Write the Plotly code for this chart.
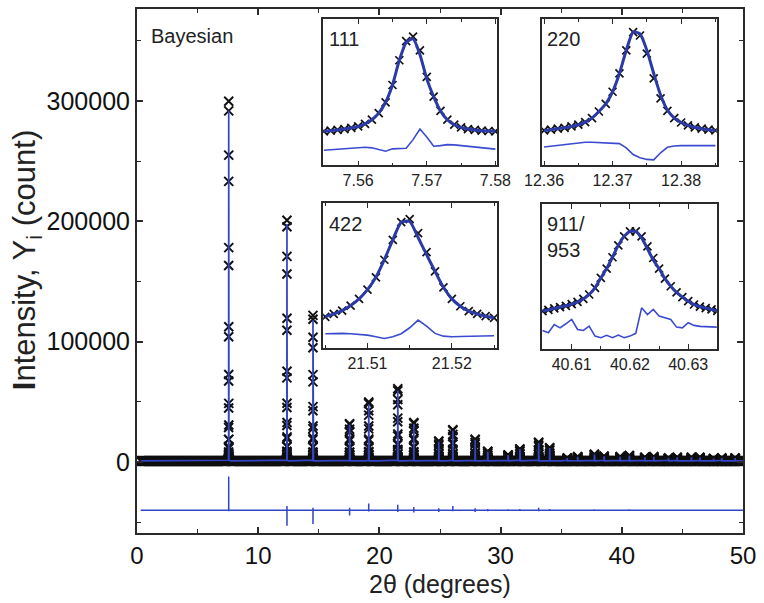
import numpy as np
import plotly.graph_objects as go

# ---------------- main powder pattern ----------------
STEP = 0.001                     # 2theta step inside each reflection (deg)
background = 900                 # flat background (counts)
diff_offset = -40000             # vertical offset of the difference curve

# reflections (2theta, deg)
peak_pos = [7.568, 12.373, 14.52, 17.54, 19.12, 21.516, 22.84, 24.90, 26.06,
            27.90, 28.94, 30.62, 31.59, 33.14, 34.05, 35.50, 36.36, 37.74,
            38.54, 39.86, 40.621, 41.90, 42.64, 43.85, 44.57, 45.74, 46.44,
            47.57, 48.25, 49.35]
# observed peak maxima above background (counts)
peak_obs = [299000, 200000, 121000, 31000, 49000, 60000, 32000, 16500, 26000,
            18000, 8000, 5000, 10000, 15500, 11000, 2500, 3500, 5500,
            4000, 3500, 4500, 3000, 3500, 2500, 3000, 3000, 3000,
            2000, 2500, 2500]
# calculated peak maxima above background (counts)
peak_calc = [291000, 197000, 117000, 30000, 47000, 58500, 31000, 16000, 25000,
             17500, 7800, 4900, 9800, 15000, 10700, 2400, 3400, 5300,
             3900, 3400, 4400, 2900, 3400, 2400, 2900, 2900, 2900,
             1900, 2400, 2400]
# relative line profile (offsets in steps of 0.001 deg from the maximum)
profile_offset = [-150, -100, -70, -45, -30, -23, -19, -16, -14,
                  -13, -12, -11, -10, -9, -8, -7, -6, -5, -4, -3, -2, -1, 0,
                  1, 2, 3, 4, 5, 6, 7, 8, 9, 10, 11, 12,
                  14, 16, 19, 23, 30, 45, 70, 100, 150]
profile_shape = [0.0004, 0.0006, 0.001, 0.0015, 0.002, 0.003, 0.004, 0.005, 0.006,
                 0.008, 0.010, 0.016, 0.025, 0.040, 0.060, 0.093, 0.147, 0.222,
                 0.345, 0.543, 0.777, 0.973, 1.000,
                 0.850, 0.593, 0.373, 0.240, 0.160, 0.100, 0.060, 0.035,
                 0.020, 0.013, 0.009, 0.007,
                 0.006, 0.005, 0.004, 0.003, 0.002, 0.0015, 0.001, 0.0006, 0.0004]
# difference curve excursions (counts) at each reflection
diff_up = [28000, 3500, 2000, 2000, 5500, 4500, 2500, 1500, 3500,
           1500, 1000, 800, 1000, 2000, 1000, 500, 500, 800,
           600, 500, 700, 500, 500, 400, 500, 400, 500,
           400, 400, 400]
diff_down = [-1000, -13000, -11500, -4500, -1200, -1500, -2000, -1500, -1000,
             -1500, -1000, -800, -800, -1000, -800, -500, -500, -600,
             -500, -500, -600, -400, -500, -400, -400, -400, -400,
             -400, -400, -400]

# coarse background scan plus fine scan through every reflection
scan_start, scan_end, coarse_step = 0.3, 50.0, 0.02
x_coarse = np.arange(scan_start, scan_end + 1e-9, coarse_step)
pos = np.array(peak_pos)
keep = np.min(np.abs(x_coarse[:, None] - pos[None, :]), axis=1) > 0.16
x_all = [x_coarse[keep]]
obs_all = [np.full(keep.sum(), background, float)]
calc_all = [np.full(keep.sum(), background, float)]
off = np.array(profile_offset) * STEP
shape = np.array(profile_shape)
for p, ho, hc in zip(peak_pos, peak_obs, peak_calc):
    x_all.append(p + off)
    obs_all.append(background + ho * shape)
    calc_all.append(background + hc * shape)
x_all = np.concatenate(x_all)
obs_all = np.concatenate(obs_all)
calc_all = np.concatenate(calc_all)
order = np.argsort(x_all)
x_all, obs_all, calc_all = x_all[order], obs_all[order], calc_all[order]

# difference curve
dx, dy = [scan_start], [diff_offset]
for p, u, d in zip(peak_pos, diff_up, diff_down):
    dx += [p - 0.003, p - 0.001, p + 0.001, p + 0.003]
    dy += [diff_offset, diff_offset + u, diff_offset + d, diff_offset]
dx.append(scan_end)
dy.append(diff_offset)

# ---------------- enlarged reflections ----------------
ins_111_x0 = 7.555
ins_111_obs = [23.3, 23.7, 24.2, 24.8, 25.7, 26.6, 28.4, 31.2, 35.7, 43.1, 54.9,
               71.8, 84.9, 88.0, 78.6, 60.5, 47.0, 37.2, 31.2, 27.8, 26.0, 24.8,
               24.2, 23.7, 23.5, 23.3]
ins_111_calc = [23.3, 23.7, 24.2, 24.8, 25.7, 26.6, 28.4, 31.2, 35.7, 43.1, 54.9,
                71.8, 84.0, 86.5, 75.8, 59.1, 47.0, 37.2, 31.2, 27.8, 26.0, 24.8,
                24.2, 23.7, 23.5, 23.3]
ins_111_diff = [10.4, 10.8, 11.3, 11.7, 12.0, 12.2, 12.4, 12.0, 10.8, 9.7, 11.3,
                11.5, 11.7, 17.6, 24.8, 19.4, 13.1, 13.5, 14.2, 14.0, 13.5, 12.9,
                12.2, 11.7, 11.3, 11.1]

ins_220_x0 = 12.360
ins_220_obs = [23.9, 24.4, 25.1, 25.7, 26.6, 27.8, 29.6, 32.3, 36.8, 42.0, 50.3,
               62.8, 78.6, 91.0, 88.7, 76.3, 59.4, 45.8, 37.2, 32.3, 29.3, 27.3,
               26.0, 25.1, 24.4, 23.9]
ins_220_calc = [23.9, 24.4, 25.1, 25.7, 26.6, 27.8, 29.6, 32.3, 36.8, 42.0, 50.3,
                62.8, 78.6, 91.0, 89.8, 78.6, 62.8, 48.1, 37.8, 32.3, 29.3, 27.3,
                26.0, 25.1, 24.4, 23.9]
ins_220_diff = [12.6, 13.1, 13.8, 14.4, 15.1, 15.6, 15.8, 15.8, 15.6, 15.6, 15.3,
                14.9, 12.0, 7.4, 5.2, 4.1, 3.8, 8.6, 12.4, 13.3, 13.5, 13.5,
                13.5, 13.5, 13.5, 13.5]

ins_422_x0 = 21.505
ins_422_obs = [21.4, 23.4, 25.7, 29.2, 33.8, 40.2, 48.7, 60.9, 74.7, 86.9, 89.0,
               79.3, 66.2, 52.9, 41.8, 33.8, 28.7, 25.3, 23.4, 21.8, 20.7]
ins_422_calc = [21.4, 23.4, 25.7, 29.2, 33.8, 40.2, 48.7, 60.9, 74.7, 86.9, 87.4,
                76.3, 64.4, 52.9, 41.8, 33.8, 28.7, 25.3, 23.4, 21.8, 20.7]
ins_422_diff = [9.7, 9.9, 9.9, 9.7, 9.4, 8.7, 7.6, 6.4, 7.6, 9.7, 13.8,
                19.1, 14.9, 9.9, 8.0, 7.6, 7.8, 8.0, 8.3, 8.3, 8.3]

ins_911_x0 = 40.605
ins_911_obs = [25.9, 26.8, 27.8, 28.7, 29.6, 30.7, 32.3, 34.4, 37.4, 42.0, 48.9,
               55.3, 63.1, 71.3, 77.5, 81.0, 81.0, 77.5, 70.6, 62.6, 55.3, 48.4,
               43.1, 38.8, 35.6, 32.8, 30.5, 29.1, 28.0, 27.1, 26.1]
ins_911_calc = [25.9, 26.8, 27.8, 28.7, 29.6, 30.7, 32.3, 34.4, 37.4, 42.0, 48.9,
                55.3, 63.1, 71.3, 77.5, 81.0, 81.0, 76.4, 69.0, 61.2, 55.3, 48.4,
                43.1, 38.8, 35.6, 32.8, 30.5, 29.1, 28.0, 27.1, 26.1]
ins_911_diff = [12.6, 11.0, 16.7, 14.4, 17.2, 20.2, 13.3, 12.6, 15.6, 8.7, 7.6,
                9.2, 7.6, 9.4, 7.6, 8.7, 10.6, 28.2, 23.6, 27.1, 22.5, 21.3,
                20.2, 14.9, 14.4, 17.9, 16.1, 15.4, 15.1, 14.9, 14.9]

insets = [
    dict(label="111", x0=ins_111_x0, obs=ins_111_obs, calc=ins_111_calc, diff=ins_111_diff,
         rng=[7.5549, 7.5803], ticks=[7.56, 7.57, 7.58], ticktext=["7.56", "7.57", "7.58"],
         minor=[7.555, 7.565, 7.575],
         dx=[0.3072, 0.5948], dy=[0.7015, 0.981], ly=0.865),
    dict(label="220", x0=ins_220_x0, obs=ins_220_obs, calc=ins_220_calc, diff=ins_220_diff,
         rng=[12.3597, 12.3852], ticks=[12.36, 12.37, 12.38], ticktext=["12.36", "12.37", "12.38"],
         minor=[12.365, 12.375, 12.385],
         dx=[0.6683, 0.9567], dy=[0.7015, 0.981], ly=0.865),
    dict(label="422", x0=ins_422_x0, obs=ins_422_obs, calc=ins_422_calc, diff=ins_422_diff,
         rng=[21.50475, 21.5254], ticks=[21.51, 21.52], ticktext=["21.51", "21.52"],
         minor=[21.505, 21.515, 21.525],
         dx=[0.3072, 0.5948], dy=[0.3536, 0.6293], ly=0.855),
    dict(label="911/<br>953", x0=ins_911_x0, obs=ins_911_obs, calc=ins_911_calc, diff=ins_911_diff,
         rng=[40.6049, 40.6349], ticks=[40.61, 40.62, 40.63], ticktext=["40.61", "40.62", "40.63"],
         minor=[40.605, 40.615, 40.625, 40.635],
         dx=[0.6683, 0.9567], dy=[0.3517, 0.6283], ly=0.77),
]

BLUE = "#3345c4"
BLUE_DARK = "#2c3aa8"
AXIS = "#2a2a2a"
FONT = "Liberation Sans, Arial, sans-serif"

fig = go.Figure()

fig.add_trace(go.Scatter(
    x=x_all, y=obs_all, mode="markers", showlegend=False,
    marker=dict(symbol="x-thin", size=9, line=dict(width=2, color="#111111")),
))
fig.add_trace(go.Scatter(
    x=x_all, y=calc_all, mode="lines", showlegend=False,
    line=dict(color=BLUE, width=1.7),
))
fig.add_trace(go.Scatter(
    x=dx, y=dy, mode="lines", showlegend=False,
    line=dict(color=BLUE, width=1.5),
))

for i, ins in enumerate(insets, start=2):
    xs = [ins["x0"] + k * STEP for k in range(len(ins["obs"]))]
    xa, ya = f"x{i}", f"y{i}"
    fig.add_trace(go.Scatter(x=xs, y=ins["diff"], mode="lines", xaxis=xa, yaxis=ya,
                             showlegend=False, line=dict(color="#3a4bd0", width=1.6)))
    fig.add_trace(go.Scatter(x=xs, y=ins["obs"], mode="markers", xaxis=xa, yaxis=ya,
                             showlegend=False,
                             marker=dict(symbol="x-thin", size=8,
                                         line=dict(width=1.7, color="#111111"))))
    fig.add_trace(go.Scatter(x=xs, y=ins["calc"], mode="lines", xaxis=xa, yaxis=ya,
                             showlegend=False, line=dict(color=BLUE_DARK, width=3, shape="spline",
                                                         smoothing=0.6)))
    fig.update_layout(**{
        f"xaxis{i}": dict(
            domain=ins["dx"], anchor=ya, range=ins["rng"],
            tickmode="array", tickvals=ins["ticks"], ticktext=ins["ticktext"],
            ticks="inside", ticklen=5, tickwidth=1.3, tickcolor=AXIS,
            minor=dict(tickmode="array", tickvals=ins["minor"], ticks="inside",
                       ticklen=3, tickwidth=1.2, tickcolor=AXIS),
            showline=True, linecolor=AXIS, linewidth=1.5, mirror="allticks",
            showgrid=False, zeroline=False,
            tickfont=dict(size=16, color="#222222", family=FONT),
        ),
        f"yaxis{i}": dict(
            domain=ins["dy"], anchor=xa, range=[0, 100],
            showticklabels=False, ticks="",
            showline=True, linecolor=AXIS, linewidth=1.5, mirror=True,
            showgrid=False, zeroline=False,
        ),
    })
    fig.add_annotation(text=ins["label"], xref=f"{xa} domain", yref=f"{ya} domain",
                       x=0.02, y=ins["ly"], xanchor="left", yanchor="middle",
                       showarrow=False, align="left",
                       font=dict(size=20, color="#222222", family=FONT))

fig.add_annotation(text="Bayesian", xref="paper", yref="paper", x=0.02, y=0.9487,
                   xanchor="left", yanchor="middle", showarrow=False,
                   font=dict(size=20, color="#222222", family=FONT))
fig.add_annotation(text="2θ (degrees)", xref="paper", yref="paper", x=0.5, y=-0.097,
                   xanchor="center", yanchor="middle", showarrow=False,
                   font=dict(size=25, color="#222222", family=FONT))
fig.add_annotation(text="<b>I</b>ntensity, Y<sub>i</sub> (count)", xref="paper", yref="paper",
                   x=-0.182, y=0.52, xanchor="center", yanchor="middle", textangle=-90,
                   showarrow=False, font=dict(size=31, color="#222222", family=FONT))

fig.update_layout(
    width=764, height=603,
    margin=dict(l=137, r=15, t=7, b=70),
    paper_bgcolor="white", plot_bgcolor="white",
    xaxis=dict(
        domain=[0, 1], range=[0, 50], tickmode="linear", tick0=0, dtick=10,
        ticks="inside", ticklen=6, tickwidth=1.5, tickcolor=AXIS,
        minor=dict(tick0=0, dtick=5, ticks="inside", ticklen=4, tickwidth=1.3, tickcolor=AXIS),
        showline=True, linecolor=AXIS, linewidth=2, mirror="allticks",
        showgrid=False, zeroline=False,
        tickfont=dict(size=24, color="#111111", family=FONT),
    ),
    yaxis=dict(
        domain=[0, 1], range=[-59000, 376500], tickmode="linear", tick0=0, dtick=100000,
        tickformat="d",
        ticks="inside", ticklen=6, tickwidth=1.5, tickcolor=AXIS,
        minor=dict(tick0=0, dtick=50000, ticks="inside", ticklen=4, tickwidth=1.3, tickcolor=AXIS),
        showline=True, linecolor=AXIS, linewidth=2, mirror="allticks",
        showgrid=False, zeroline=False,
        tickfont=dict(size=25, color="#111111", family=FONT),
    ),
)

fig.write_html("out.html")
